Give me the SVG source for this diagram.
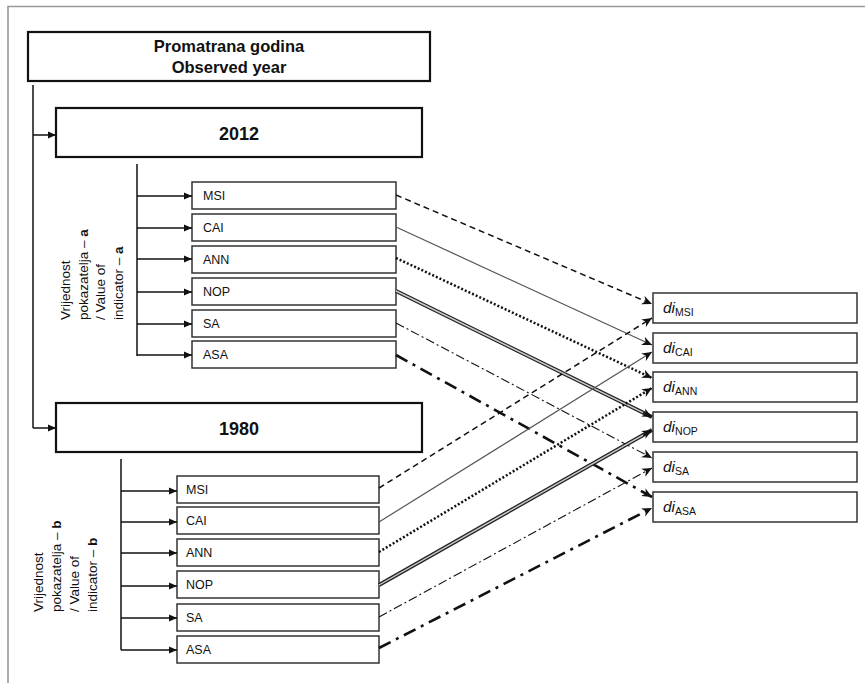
<svg xmlns="http://www.w3.org/2000/svg" width="865" height="683" viewBox="0 0 865 683">
<style>
  text { font-family: "Liberation Sans", Arial, sans-serif; fill: #111; }
  .big { fill: #fff; stroke: #111; stroke-width: 2.2; }
  .box { fill: #fff; stroke: #333; stroke-width: 1.5; }
  .tb { font-weight: bold; text-anchor: middle; }
  .lbl { font-size: 12.5px; }
  .rot { font-size: 13.5px; }
  .di { font-size: 15.5px; font-style: italic; }
  .sub { font-size: 10.5px; font-style: normal; }
  .ln { fill: none; stroke: #111; stroke-width: 1.5; }
</style>
<defs>
  <marker id="tri" viewBox="0 0 10 10" refX="10" refY="5" markerWidth="8" markerHeight="8" markerUnits="userSpaceOnUse" orient="auto">
    <path d="M0,0.5 L10,5 L0,9.5 z" fill="#111"/>
  </marker>
  <marker id="stl" viewBox="0 0 10 10" refX="10" refY="5" markerWidth="10" markerHeight="10" markerUnits="userSpaceOnUse" orient="auto">
    <path d="M0,0.5 L10,5 L0,9.5 L3,5 z" fill="#111"/>
  </marker>
</defs>
<rect width="865" height="683" fill="#fff"/>
<path d="M8,683 V6.5 H865" fill="none" stroke="#999" stroke-width="1.6"/>

<g id="title">
  <rect class="big" x="28" y="32" width="402" height="49"/>
  <text class="tb" x="229" y="52" font-size="16.5">Promatrana godina</text>
  <text class="tb" x="229" y="73" font-size="16.5">Observed year</text>
</g>
<g id="y2012">
  <rect class="big" x="56" y="108" width="366" height="49"/>
  <text class="tb" x="239" y="140" font-size="18">2012</text>
</g>
<g id="y1980">
  <rect class="big" x="56" y="403" width="366" height="49"/>
  <text class="tb" x="239" y="435" font-size="18">1980</text>
</g>

<g id="label-a">
  <text class="rot" transform="translate(70,320) rotate(-90)">Vrijednost</text>
  <text class="rot" transform="translate(88,320) rotate(-90)">pokazatelja – <tspan font-weight="bold">a</tspan></text>
  <text class="rot" transform="translate(105,320) rotate(-90)">/ Value   of</text>
  <text class="rot" transform="translate(123,320) rotate(-90)">indicator – <tspan font-weight="bold">a</tspan></text>
</g>
<g id="label-b">
  <text class="rot" transform="translate(43,612) rotate(-90)">Vrijednost</text>
  <text class="rot" transform="translate(61,612) rotate(-90)">pokazatelja – <tspan font-weight="bold">b</tspan></text>
  <text class="rot" transform="translate(79,612) rotate(-90)">/ Value   of</text>
  <text class="rot" transform="translate(97,612) rotate(-90)">indicator – <tspan font-weight="bold">b</tspan></text>
</g>

<g id="a-MSI"><rect class="box" x="192" y="182" width="204" height="27"/><text class="lbl" x="203" y="200">MSI</text></g>
<g id="a-CAI"><rect class="box" x="192" y="214" width="204" height="27"/><text class="lbl" x="203" y="232">CAI</text></g>
<g id="a-ANN"><rect class="box" x="192" y="246" width="204" height="27"/><text class="lbl" x="203" y="264">ANN</text></g>
<g id="a-NOP"><rect class="box" x="192" y="278" width="204" height="27"/><text class="lbl" x="203" y="296">NOP</text></g>
<g id="a-SA"><rect class="box" x="192" y="310" width="204" height="27"/><text class="lbl" x="203" y="328">SA</text></g>
<g id="a-ASA"><rect class="box" x="192" y="341" width="204" height="27"/><text class="lbl" x="203" y="359">ASA</text></g>

<g id="b-MSI"><rect class="box" x="177" y="476" width="202" height="27"/><text class="lbl" x="186" y="494">MSI</text></g>
<g id="b-CAI"><rect class="box" x="177" y="507" width="202" height="27"/><text class="lbl" x="186" y="525">CAI</text></g>
<g id="b-ANN"><rect class="box" x="177" y="539" width="202" height="27"/><text class="lbl" x="186" y="557">ANN</text></g>
<g id="b-NOP"><rect class="box" x="177" y="571" width="202" height="27"/><text class="lbl" x="186" y="589">NOP</text></g>
<g id="b-SA"><rect class="box" x="177" y="604" width="202" height="27"/><text class="lbl" x="186" y="622">SA</text></g>
<g id="b-ASA"><rect class="box" x="177" y="636" width="202" height="27"/><text class="lbl" x="186" y="654">ASA</text></g>

<g id="di-MSI"><rect class="box" x="653" y="293" width="204" height="30"/><text class="di" x="663" y="313">di<tspan class="sub" dy="3">MSI</tspan></text></g>
<g id="di-CAI"><rect class="box" x="653" y="333" width="204" height="30"/><text class="di" x="663" y="353">di<tspan class="sub" dy="3">CAI</tspan></text></g>
<g id="di-ANN"><rect class="box" x="653" y="372" width="204" height="30"/><text class="di" x="663" y="392">di<tspan class="sub" dy="3">ANN</tspan></text></g>
<g id="di-NOP"><rect class="box" x="653" y="412" width="204" height="30"/><text class="di" x="663" y="432">di<tspan class="sub" dy="3">NOP</tspan></text></g>
<g id="di-SA"><rect class="box" x="653" y="452" width="204" height="30"/><text class="di" x="663" y="472">di<tspan class="sub" dy="3">SA</tspan></text></g>
<g id="di-ASA"><rect class="box" x="653" y="492" width="204" height="30"/><text class="di" x="663" y="512">di<tspan class="sub" dy="3">ASA</tspan></text></g>

<g id="connectors">
  <path class="ln" d="M33,85 V428"/>
  <path class="ln" d="M33,135 H56" marker-end="url(#tri)"/>
  <path class="ln" d="M33,428 H56" marker-end="url(#tri)"/>
  <path class="ln" d="M137,164 V356"/>
  <path class="ln" d="M137,196 H192" marker-end="url(#tri)"/>
  <path class="ln" d="M137,228 H192" marker-end="url(#tri)"/>
  <path class="ln" d="M137,259 H192" marker-end="url(#tri)"/>
  <path class="ln" d="M137,292 H192" marker-end="url(#tri)"/>
  <path class="ln" d="M137,324 H192" marker-end="url(#tri)"/>
  <path class="ln" d="M137,355 H192" marker-end="url(#tri)"/>
  <path class="ln" d="M121,459 V650"/>
  <path class="ln" d="M121,491 H177" marker-end="url(#tri)"/>
  <path class="ln" d="M121,522 H177" marker-end="url(#tri)"/>
  <path class="ln" d="M121,553 H177" marker-end="url(#tri)"/>
  <path class="ln" d="M121,586 H177" marker-end="url(#tri)"/>
  <path class="ln" d="M121,618 H177" marker-end="url(#tri)"/>
  <path class="ln" d="M121,650 H177" marker-end="url(#tri)"/>

  <line x1="396" y1="195" x2="652" y2="304" stroke="#111" stroke-width="1.5" stroke-dasharray="6 4" marker-end="url(#stl)"/>
  <line x1="396" y1="227" x2="652" y2="345" stroke="#555" stroke-width="1.2" marker-end="url(#stl)"/>
  <line x1="396" y1="258" x2="652" y2="378" stroke="#111" stroke-width="2.5" stroke-dasharray="2 2" marker-end="url(#stl)"/>
  <line x1="396" y1="291" x2="652" y2="417" stroke="#222" stroke-width="4" marker-end="url(#stl)"/>
  <line x1="396" y1="291" x2="643" y2="412.6" stroke="#ccc" stroke-width="1.4"/>
  <line x1="396" y1="323" x2="652" y2="458" stroke="#111" stroke-width="1.1" stroke-dasharray="9 3 2 3" marker-end="url(#stl)"/>
  <line x1="396" y1="355" x2="652" y2="497" stroke="#111" stroke-width="2.6" stroke-dasharray="13 6 3 6" marker-end="url(#stl)"/>

  <line x1="379" y1="488" x2="652" y2="318" stroke="#111" stroke-width="1.5" stroke-dasharray="6 4" marker-end="url(#stl)"/>
  <line x1="379" y1="522" x2="652" y2="352" stroke="#555" stroke-width="1.2" marker-end="url(#stl)"/>
  <line x1="379" y1="552" x2="652" y2="388" stroke="#111" stroke-width="2.5" stroke-dasharray="2 2" marker-end="url(#stl)"/>
  <line x1="379" y1="585" x2="652" y2="430" stroke="#222" stroke-width="4" marker-end="url(#stl)"/>
  <line x1="379" y1="585" x2="643" y2="435.1" stroke="#ccc" stroke-width="1.4"/>
  <line x1="379" y1="617" x2="652" y2="468" stroke="#111" stroke-width="1.1" stroke-dasharray="9 3 2 3" marker-end="url(#stl)"/>
  <line x1="379" y1="648" x2="652" y2="508" stroke="#111" stroke-width="2.6" stroke-dasharray="13 6 3 6" marker-end="url(#stl)"/>
</g>
</svg>
